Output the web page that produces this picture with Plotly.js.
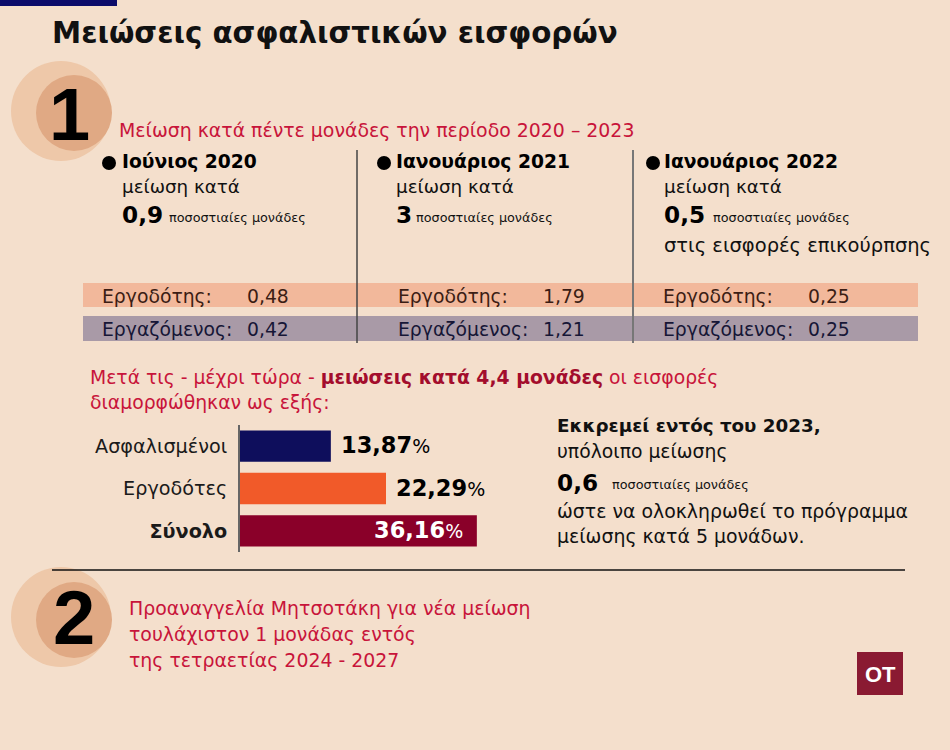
<!DOCTYPE html>
<html>
<head>
<meta charset="utf-8">
<script src="https://cdn.plot.ly/plotly-3.0.1.min.js"></script>
<style>
html,body{margin:0;padding:0;background:#f4dfcc;}
#chart{width:950px;height:750px;}
</style>
</head>
<body>
<div id="chart"></div>
<script>
// ---- data ----
const barCategories = ['Ασφαλισμένοι', 'Εργοδότες', 'Σύνολο'];
const barTickText = ['Ασφαλισμένοι', 'Εργοδότες', '<b>Σύνολο</b>'];
const barValues = [13.87, 22.29, 36.16];
const barColors = ['#0e0e5c', '#f15a29', '#8a0029'];

const periods = ['Ιούνιος 2020', 'Ιανουάριος 2021', 'Ιανουάριος 2022'];
const reductions = [0.9, 3, 0.5];
const employerCuts = [0.48, 1.79, 0.25];
const employeeCuts = [0.42, 1.21, 0.25];
const employerLabel = 'Εργοδότης:';
const employeeLabel = 'Εργαζόμενος:';
const pendingCut = 0.6;

// ---- helpers ----
const W = 950, H = 750;
const FONT = 'DejaVu Sans, Noto Sans, sans-serif';
const RED = '#c8143a';
const px = x => x / W;
const py = y => 1 - y / H;
const gr = v => String(v).replace('.', ',');
const gr2 = v => v.toFixed(2).replace('.', ',');

function T(x, y, text, size, color, weight, extra) {
  return Object.assign({
    xref: 'paper', yref: 'paper', x: px(x), y: py(y),
    xanchor: 'left', yanchor: 'middle', showarrow: false, text: text,
    font: {family: FONT, size: size, color: color, weight: weight || 400}
  }, extra || {});
}
function rect(x0, y0, x1, y1, color) {
  return {type: 'rect', xref: 'paper', yref: 'paper', x0: px(x0), x1: px(x1), y0: py(y1), y1: py(y0),
    fillcolor: color, line: {width: 0}, layer: 'below'};
}
function circ(cx, cy, r, color) {
  return {type: 'circle', xref: 'paper', yref: 'paper', x0: px(cx - r), x1: px(cx + r), y0: py(cy + r), y1: py(cy - r),
    fillcolor: color, line: {width: 0}, layer: 'below'};
}
function line(x0, y0, x1, y1, color, w) {
  return {type: 'line', xref: 'paper', yref: 'paper', x0: px(x0), x1: px(x1), y0: py(y0), y1: py(y1),
    line: {color: color, width: w}};
}

const shapes = [];
const ann = [];

// top bar + title
shapes.push(rect(0, 0, 117, 6, '#0c0c6a'));
ann.push(T(50, 33, 'Μειώσεις ασφαλιστικών εισφορών', 29.3, '#111', 700));

// circle 1
shapes.push(circ(61, 111, 50, '#eec8a9'));
shapes.push(circ(74, 113, 38, '#e0a984'));
ann.push(T(69, 115, '1', 74, '#000', 700, {xanchor: 'center', font: {family: 'Liberation Sans, Arial, sans-serif', size: 74, color: '#000', weight: 700}}));
ann.push(T(117, 130, 'Μείωση κατά πέντε μονάδες την περίοδο 2020 – 2023', 18.9, RED, 400));

// three columns
const bulletX = [109, 384, 653];
const textX = [120, 394, 662];
const unitX = [167, 414, 711];
periods.forEach((p, i) => {
  shapes.push(circ(bulletX[i], 163, 7, '#000'));
  ann.push(T(textX[i], 162, p, 18.7, '#000', 700));
  ann.push(T(textX[i], 187, 'μείωση κατά', 18.3, '#111', 400));
  ann.push(T(textX[i], 215, gr(reductions[i]), 23.2, '#000', 700));
  ann.push(T(unitX[i], 218, 'ποσοστιαίες μονάδες', 12.8, '#111', 400));
});
ann.push(T(textX[2], 245, 'στις εισφορές επικούρπσης', 19.5, '#111', 400));

// table bands
shapes.push(rect(83, 283, 918, 307, '#f2b89b'));
shapes.push(rect(83, 316, 918, 341, '#a99aa7'));
const labX = [100, 396, 661];
const valX = [245, 541, 806];
employerCuts.forEach((v, i) => {
  ann.push(T(labX[i], 296, employerLabel, 18.8, '#3b1d14', 400));
  ann.push(T(valX[i], 296, gr2(v), 18.8, '#3b1d14', 400));
});
employeeCuts.forEach((v, i) => {
  ann.push(T(labX[i], 329, employeeLabel, 18.8, '#161636', 400));
  ann.push(T(valX[i], 329, gr2(v), 18.8, '#161636', 400));
});
// dividers
shapes.push(line(357, 150, 357, 343, '#444', 1.5));
shapes.push(line(633, 150, 633, 343, '#777', 2));

// section text
ann.push(T(88, 377, 'Μετά τις - μέχρι τώρα - <b><span style="color:#a30d2c">μειώσεις κατά 4,4 μονάδες</span></b> οι εισφορές', 18.8, RED, 400));
ann.push(T(88, 402, 'διαμορφώθηκαν ως εξής:', 18.8, RED, 400));

// right block
ann.push(T(555, 425, 'Εκκρεμεί εντός του 2023,', 18.3, '#111', 700));
ann.push(T(555, 451, 'υπόλοιπο μείωσης', 18.8, '#111', 400));
ann.push(T(555, 482, gr(pendingCut), 23.2, '#000', 700));
ann.push(T(610, 485, 'ποσοστιαίες μονάδες', 12.8, '#111', 400));
ann.push(T(555, 511, 'ώστε να ολοκληρωθεί το πρόγραμμα', 18.9, '#111', 400));
ann.push(T(555, 536, 'μείωσης κατά 5 μονάδων.', 18.9, '#111', 400));

// separator
shapes.push(line(52, 570, 905, 570, '#111', 1.5));

// circle 2
shapes.push(circ(61, 617, 50, '#eec8a9'));
shapes.push(circ(74, 620, 38, '#e0a984'));
ann.push(T(74, 617, '2', 76, '#000', 700, {xanchor: 'center', font: {family: 'Liberation Sans, Arial, sans-serif', size: 76, color: '#000', weight: 700}}));
ann.push(T(127, 608, 'Προαναγγελία Μητσοτάκη για νέα μείωση', 18.9, RED, 400));
ann.push(T(127, 634, 'τουλάχιστον 1 μονάδας εντός', 18.9, RED, 400));
ann.push(T(127, 660, 'της τετραετίας 2024 - 2027', 18.9, RED, 400));

// OT logo
shapes.push(rect(857, 652, 903, 695, '#8a1a32'));
ann.push(T(880, 674, 'OT', 22, '#fff', 700, {xanchor: 'center', font: {family: 'Liberation Sans, Arial, sans-serif', size: 22, color: '#fff', weight: 700}}));

// bar labels (data coords)
barValues.forEach((v, i) => {
  const inside = i === barValues.length - 1;
  ann.push({
    xref: 'x', yref: 'y', x: v, y: barCategories[i], showarrow: false,
    xanchor: inside ? 'right' : 'left', yanchor: 'middle',
    xshift: inside ? -12 : 8, yshift: 1,
    text: '<b>' + gr2(v) + '</b><span style="font-size:19px">%</span>',
    font: {family: FONT, size: 22.5, color: inside ? '#fff' : '#000'}
  });
});

// bar axis geometry: x=0 at pixel 240, 6.55 px per unit
const xMax = 50;
const x0px = 240, pxPerUnit = 6.55;
const data = [{
  type: 'bar', orientation: 'h',
  y: barCategories, x: barValues,
  marker: {color: barColors, line: {width: 0}},
  hoverinfo: 'skip'
}];

const layout = {
  width: W, height: H,
  margin: {l: 0, r: 0, t: 0, b: 0},
  paper_bgcolor: '#f4dfcc', plot_bgcolor: 'rgba(0,0,0,0)',
  showlegend: false,
  bargap: 0.26,
  xaxis: {domain: [px(x0px), px(x0px + pxPerUnit * xMax)], range: [0, xMax], visible: false, fixedrange: true},
  yaxis: {
    domain: [py(552), py(425)], range: [2.5, -0.5], type: 'category',
    tickvals: barCategories, ticktext: barTickText,
    showline: true, linecolor: '#666', linewidth: 2, showgrid: false, zeroline: false,
    ticks: '', ticklabelstandoff: 7,
    tickfont: {family: FONT, size: 19.2, color: '#1a1a1a'}, fixedrange: true
  },
  shapes: shapes,
  annotations: ann,
  font: {family: FONT}
};

Plotly.newPlot('chart', data, layout, {displayModeBar: false, staticPlot: true});
</script>
</body>
</html>
